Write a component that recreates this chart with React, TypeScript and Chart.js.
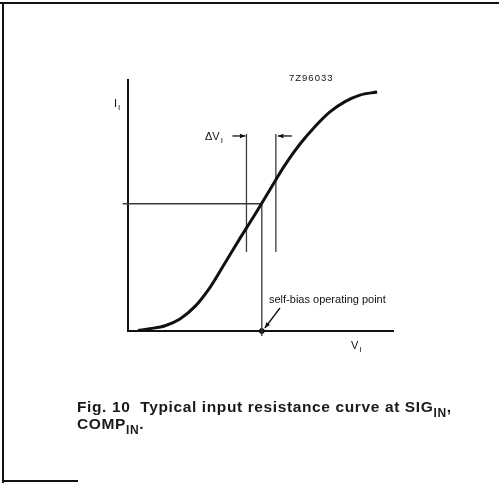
import React, { useEffect, useRef } from "react";
import { Chart, registerables } from "chart.js";

Chart.register(...registerables);

// Input voltage V_I (arbitrary units) and input current I_I (arbitrary units)
const curveV = [0.38, 0.83, 1.4, 1.96, 2.53, 3.09, 3.66, 4.23, 4.79, 5.36, 5.92, 6.49, 7.06, 7.62, 8.19, 8.75, 9.4];
const curveI = [0.02, 0.09, 0.21, 0.48, 0.98, 1.73, 2.71, 3.7, 4.64, 5.64, 6.61, 7.45, 8.15, 8.73, 9.14, 9.4, 9.52];

// self-bias operating point
const opV = 5.05;
const opI = 5.07;

// ΔV_I marker lines
const deltaV = [4.47, 5.58];
const deltaRangeI = [3.15, 7.85];

const axisMin = 0;
const axisMax = 10;

const INK = "#111";
const THIN = "#3a3a3a";
const FONT = "'Liberation Sans', Arial, sans-serif";

function arrowHead(ctx: CanvasRenderingContext2D, x1: number, y1: number, x2: number, y2: number, size: number) {
  const a = Math.atan2(y2 - y1, x2 - x1);
  ctx.beginPath();
  ctx.moveTo(x2, y2);
  ctx.lineTo(x2 - size * Math.cos(a - 0.4), y2 - size * Math.sin(a - 0.4));
  ctx.lineTo(x2 - size * Math.cos(a + 0.4), y2 - size * Math.sin(a + 0.4));
  ctx.closePath();
  ctx.fill();
}

function arrow(ctx: CanvasRenderingContext2D, x1: number, y1: number, x2: number, y2: number) {
  ctx.beginPath();
  ctx.moveTo(x1, y1);
  ctx.lineTo(x2, y2);
  ctx.stroke();
  arrowHead(ctx, x1, y1, x2, y2, 6);
}

function subText(ctx: CanvasRenderingContext2D, main: string, sub: string, x: number, y: number, size: number) {
  ctx.font = `${size}px ${FONT}`;
  ctx.textAlign = "left";
  ctx.textBaseline = "alphabetic";
  ctx.fillText(main, x, y);
  const w = ctx.measureText(main).width;
  ctx.font = `${Math.round(size * 0.75)}px ${FONT}`;
  ctx.fillText(sub, x + w + 1, y + size * 0.3);
}

export default function App() {
  const ref = useRef<HTMLCanvasElement>(null);

  useEffect(() => {
    document.body.style.margin = "0";
    const canvas = ref.current;
    if (!canvas) return;

    const annotations = {
      id: "annotations",
      afterDatasetsDraw(chart: any) {
        const ctx: CanvasRenderingContext2D = chart.ctx;
        const xs = chart.scales.x;
        const ys = chart.scales.y;
        ctx.save();
        ctx.fillStyle = INK;
        ctx.strokeStyle = INK;
        ctx.lineWidth = 1.3;

        // figure code
        ctx.font = `9.5px ${FONT}`;
        ctx.textBaseline = "middle";
        ctx.textAlign = "left";
        (ctx as any).letterSpacing = "1px";
        ctx.fillText("7Z96033", 289, 78);
        (ctx as any).letterSpacing = "0px";

        // axis labels
        subText(ctx, "I", "I", xs.left - 14, 107, 11);
        subText(ctx, "V", "I", 351, 349, 11);

        // ΔV_I arrows
        const topY = ys.getPixelForValue(deltaRangeI[1]) + 2;
        const lx = xs.getPixelForValue(deltaV[0]);
        const rx = xs.getPixelForValue(deltaV[1]);
        subText(ctx, "\u0394V", "I", 205, topY + 4, 11);
        arrow(ctx, lx - 14, topY, lx - 1, topY);
        arrow(ctx, rx + 16, topY, rx + 2, topY);

        // self-bias operating point
        ctx.font = `11px ${FONT}`;
        ctx.textBaseline = "middle";
        ctx.textAlign = "left";
        ctx.fillText("self-bias operating point", 269, 300);
        const px = xs.getPixelForValue(opV);
        const py = ys.getPixelForValue(0);
        arrow(ctx, 280, 308, px + 3, py - 3);

        ctx.restore();
      },
    };

    const pts = curveV.map((v, i) => ({ x: v, y: curveI[i] }));

    const chart = new Chart(canvas, {
      type: "scatter",
      data: {
        datasets: [
          {
            label: "I_I",
            data: pts,
            showLine: true,
            borderColor: INK,
            borderWidth: 3,
            pointRadius: 0,
            cubicInterpolationMode: "monotone",
            clip: false,
          } as any,
          {
            label: "bias",
            data: [
              { x: -0.2, y: opI },
              { x: opV, y: opI },
              { x: opV, y: -0.2 },
            ],
            showLine: true,
            borderColor: THIN,
            borderWidth: 1.3,
            pointRadius: 0,
            tension: 0,
            clip: false,
          } as any,
          {
            label: "dv1",
            data: [
              { x: deltaV[0], y: deltaRangeI[0] },
              { x: deltaV[0], y: deltaRangeI[1] },
            ],
            showLine: true,
            borderColor: THIN,
            borderWidth: 1.3,
            pointRadius: 0,
            clip: false,
          } as any,
          {
            label: "dv2",
            data: [
              { x: deltaV[1], y: deltaRangeI[0] },
              { x: deltaV[1], y: deltaRangeI[1] },
            ],
            showLine: true,
            borderColor: THIN,
            borderWidth: 1.3,
            pointRadius: 0,
            clip: false,
          } as any,
          {
            label: "op",
            data: [{ x: opV, y: 0 }],
            pointRadius: 2.5,
            backgroundColor: INK,
            borderColor: INK,
            clip: false,
          } as any,
        ],
      },
      options: {
        responsive: false,
        animation: false,
        events: [],
        layout: { padding: { left: 128, right: 106, top: 80, bottom: 152 } },
        plugins: { legend: { display: false }, tooltip: { enabled: false } },
        scales: {
          x: {
            type: "linear",
            min: axisMin,
            max: axisMax,
            grid: { display: false, drawTicks: false },
            ticks: { display: false },
            border: { display: true, color: INK, width: 2 },
          },
          y: {
            type: "linear",
            min: axisMin,
            max: axisMax,
            grid: { display: false, drawTicks: false },
            ticks: { display: false },
            border: { display: true, color: INK, width: 2 },
          },
        },
      },
      plugins: [annotations],
    });

    return () => chart.destroy();
  }, []);

  const subStyle = { fontSize: 12, verticalAlign: -5, lineHeight: 0 } as const;

  return (
    <div style={{ position: "relative", width: 499, height: 483, background: "#fff", overflow: "hidden" }}>
      <canvas ref={ref} width={499} height={483} style={{ position: "absolute", left: 0, top: 0 }} />
      <div style={{ position: "absolute", left: 0, top: 2, width: 499, height: 2, background: INK }} />
      <div style={{ position: "absolute", left: 2, top: 2, width: 2, height: 481, background: INK }} />
      <div style={{ position: "absolute", left: 2, top: 480, width: 76, height: 2, background: INK }} />
      <div
        style={{
          position: "absolute",
          left: 77,
          top: 398,
          fontFamily: FONT,
          fontSize: 15.5,
          fontWeight: "bold",
          letterSpacing: 0.62,
          lineHeight: "17px",
          color: "#1a1a1a",
          whiteSpace: "nowrap",
        }}
      >
        Fig. 10&nbsp; Typical input resistance curve at SIG
        <sub style={subStyle}>IN</sub>,
        <br />
        COMP<sub style={subStyle}>IN</sub>.
      </div>
    </div>
  );
}
